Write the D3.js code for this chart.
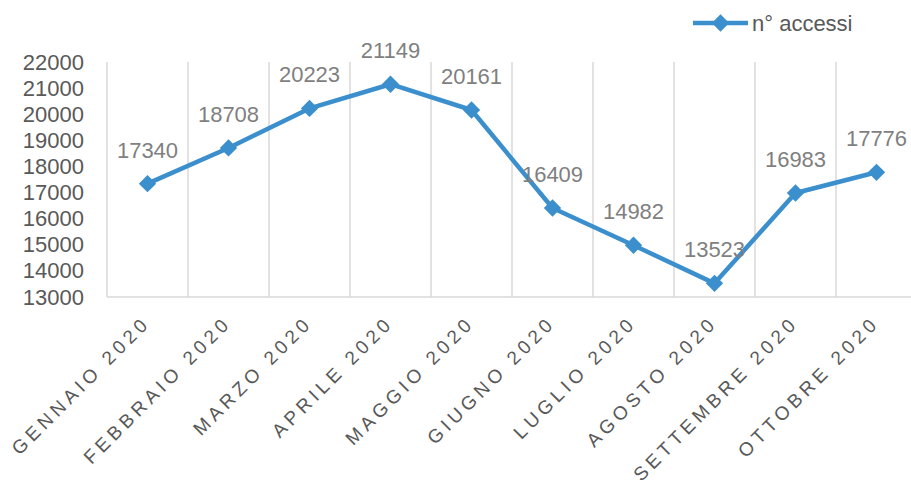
<!DOCTYPE html>
<html>
<head>
<meta charset="utf-8">
<script src="https://cdn.jsdelivr.net/npm/d3@7"></script>
<style>
  body { margin: 0; background: #fff; }
  svg { font-family: "Liberation Sans", Arial, sans-serif; }
</style>
</head>
<body>
<svg width="911" height="482"></svg>
<script>
var months = ["GENNAIO 2020", "FEBBRAIO 2020", "MARZO 2020", "APRILE 2020", "MAGGIO 2020",
    "GIUGNO 2020", "LUGLIO 2020", "AGOSTO 2020", "SETTEMBRE 2020", "OTTOBRE 2020"];
var accessi = [17340, 18708, 20223, 21149, 20161, 16409, 14982, 13523, 16983, 17776];
var yTicks = [13000, 14000, 15000, 16000, 17000, 18000, 19000, 20000, 21000, 22000];
var seriesName = "n° accessi";

var lineColor = "#3c8fcd";
var gridColor = "#d9d9d9";
var textColor = "#595959";
var labelColor = "#7f7f7f";

var marginLeft = 107, marginTop = 62, plotW = 810, plotH = 235;

var svg = d3.select("svg");

var x = d3.scaleBand().domain(months).range([0, plotW]);
var y = d3.scaleLinear().domain([13000, 22000]).range([plotH, 0]);

var g = svg.append("g")
    .attr("transform", "translate(" + marginLeft + ", " + marginTop + ")");

// vertical gridlines at category boundaries
g.selectAll(".vgrid")
    .data(months)
    .enter()
        .append("line")
        .attr("x1", function(d) { return x(d); })
        .attr("x2", function(d) { return x(d); })
        .attr("y1", 0)
        .attr("y2", plotH)
        .attr("stroke", gridColor)
        .attr("stroke-width", 1.5);

// bottom axis line
g.append("line")
    .attr("x1", 0)
    .attr("x2", plotW)
    .attr("y1", plotH)
    .attr("y2", plotH)
    .attr("stroke", gridColor)
    .attr("stroke-width", 1.5);

// Y axis
var yAxis = d3.axisLeft(y).tickValues(yTicks).tickSize(0).tickPadding(23).tickFormat(d3.format("d"));
g.append("g")
    .call(yAxis)
    .call(function(s) { s.select(".domain").remove(); })
    .selectAll("text")
        .attr("fill", textColor)
        .style("font-size", "22px")
        .style("font-family", "Liberation Sans, Arial, sans-serif");

// X axis labels
g.selectAll(".xlab")
    .data(months)
    .enter()
        .append("text")
        .attr("transform", function(d) {
            return "translate(" + (x(d) + x.bandwidth() / 2 + 4) + ", " + (plotH + 27) + ") rotate(-45)";
        })
        .attr("text-anchor", "end")
        .attr("fill", textColor)
        .style("font-size", "19px")
        .style("letter-spacing", "4.3px")
        .text(function(d) { return d; });

var cx = function(i) { return x(months[i]) + x.bandwidth() / 2; };

// Line
var line = d3.line()
    .x(function(d, i) { return cx(i); })
    .y(function(d) { return y(d); });

g.append("path")
    .datum(accessi)
    .attr("d", line)
    .attr("fill", "none")
    .attr("stroke", lineColor)
    .attr("stroke-width", 4.5)
    .attr("stroke-linejoin", "round");

var diamond = d3.symbol().type(d3.symbolSquare).size(150);

g.selectAll(".pt")
    .data(accessi)
    .enter()
        .append("path")
        .attr("d", diamond)
        .attr("transform", function(d, i) {
            return "translate(" + cx(i) + ", " + y(d) + ") rotate(45)";
        })
        .attr("fill", lineColor);

// data labels
g.selectAll(".lbl")
    .data(accessi)
    .enter()
        .append("text")
        .attr("x", function(d, i) { return cx(i); })
        .attr("y", function(d) { return y(d) - 26; })
        .attr("text-anchor", "middle")
        .attr("fill", labelColor)
        .style("font-size", "22px")
        .text(function(d) { return d; });

// Legend
var legend = svg.append("g").attr("transform", "translate(693, 23)");
legend.append("line")
    .attr("x1", 0).attr("x2", 55)
    .attr("y1", 0).attr("y2", 0)
    .attr("stroke", lineColor)
    .attr("stroke-width", 4.5);
legend.append("path")
    .attr("d", diamond)
    .attr("transform", "translate(27.5, 0) rotate(45)")
    .attr("fill", lineColor);
legend.append("text")
    .attr("x", 59)
    .attr("y", 8)
    .attr("fill", textColor)
    .style("font-size", "22px")
    .text(seriesName);
</script>
</body>
</html>
